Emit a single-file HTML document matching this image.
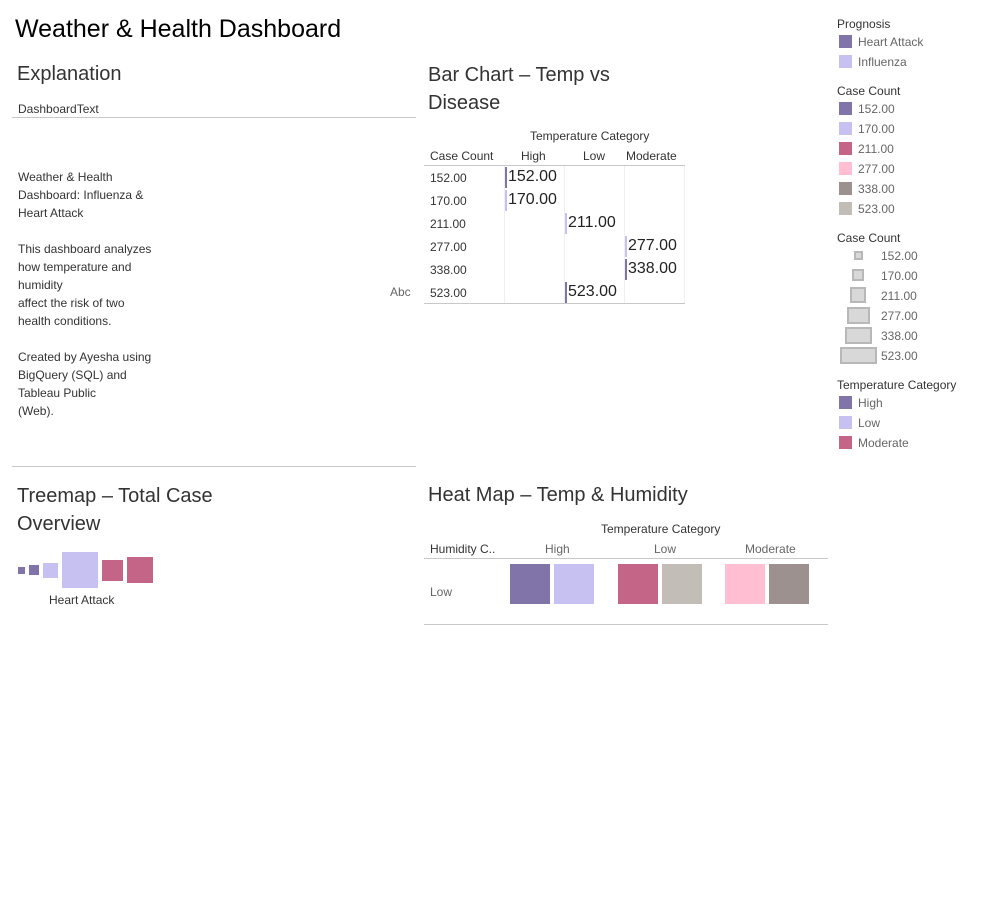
<!DOCTYPE html>
<html><head><meta charset="utf-8"><style>
body{margin:0;width:999px;height:899px;background:#fff;font-family:"Liberation Sans","DejaVu Sans",sans-serif;position:relative;overflow:hidden;color:#333}
.a{position:absolute;white-space:nowrap}
.t{font-size:20px;color:#333}
.s{font-size:12px;color:#333}
.g{font-size:12px;color:#666}
.sw{position:absolute;width:13px;height:13px}
.hl{position:absolute;height:1px;background:#c8c8c8}
</style></head><body>
<div class="a" style="left:15px;top:15px;font-size:25px;color:#000">Weather &amp; Health Dashboard</div>

<div class="a t" style="left:17px;top:63px">Explanation</div>
<div class="a s" style="left:18px;top:102px">DashboardText</div>
<div class="hl" style="left:12px;top:117px;width:404px"></div>
<div class="a s" style="left:18px;top:168px;line-height:18px;white-space:pre">Weather &amp; Health
Dashboard: Influenza &amp;
Heart Attack

This dashboard analyzes
how temperature and
humidity
affect the risk of two
health conditions.

Created by Ayesha using
BigQuery (SQL) and
Tableau Public
(Web).</div>
<div class="a g" style="left:390px;top:285px">Abc</div>
<div class="hl" style="left:12px;top:466px;width:404px"></div>

<div class="a t" style="left:428px;top:61px;line-height:28px">Bar Chart – Temp vs<br>Disease</div>
<div class="a s" style="left:530px;top:129px">Temperature Category</div>
<div class="a s" style="left:430px;top:149px">Case Count</div>
<div class="a s" style="left:521px;top:149px">High</div>
<div class="a s" style="left:583px;top:149px">Low</div>
<div class="a s" style="left:626px;top:149px">Moderate</div>
<div class="hl" style="left:424px;top:165px;width:261px"></div>
<div class="hl" style="left:424px;top:303px;width:261px"></div>
<div style="position:absolute;left:504px;top:166px;width:1px;height:137px;background:#f0f0f0"></div>
<div style="position:absolute;left:564px;top:166px;width:1px;height:137px;background:#f0f0f0"></div>
<div style="position:absolute;left:624px;top:166px;width:1px;height:137px;background:#f0f0f0"></div>
<div style="position:absolute;left:684px;top:166px;width:1px;height:137px;background:#f0f0f0"></div>
<div id="bars"></div>

<div class="a t" style="left:17px;top:482px;line-height:28px">Treemap – Total Case<br>Overview</div>
<div id="tree"></div>
<div class="a s" style="left:49px;top:593px">Heart Attack</div>

<div class="a t" style="left:428px;top:484px">Heat Map – Temp &amp; Humidity</div>
<div class="a s" style="left:601px;top:522px">Temperature Category</div>
<div class="a s" style="left:430px;top:542px">Humidity C..</div>
<div class="a g" style="left:545px;top:542px">High</div>
<div class="a g" style="left:654px;top:542px">Low</div>
<div class="a g" style="left:745px;top:542px">Moderate</div>
<div class="hl" style="left:424px;top:558px;width:404px"></div>
<div class="a g" style="left:430px;top:585px">Low</div>
<div class="hl" style="left:424px;top:624px;width:404px"></div>
<div id="heat"></div>

<div id="legend"></div>

<script>
const values=[152,170,211,277,338,523];
const tempCat=["High","High","Low","Moderate","Moderate","Low"];
const barColors=["#8074a8","#c6c1f0","#c6c1f0","#c6c1f0","#8074a8","#8074a8"];
const cats=["High","Low","Moderate"];
const colorMap={152:"#8074a8",170:"#c6c1f0",211:"#c46487",277:"#ffbed1",338:"#9c918e",523:"#c3bdb8"};
const treeVals=[152,170,211,523,277,338];
const treeColors=["#8074a8","#8074a8","#c6c1f0","#c6c1f0","#c46487","#c46487"];
const heatVals=[152,170,211,523,277,338];
const heatCats=["High","High","Low","Low","Moderate","Moderate"];

function logScale(v,r0,r1){const a=Math.log(152),b=Math.log(523);return r0+(Math.log(v)-a)/(b-a)*(r1-r0);}
function colX(c){return 505+cats.indexOf(c)*60;}
function rowY(i){return 166+i*23;}
const bars=document.getElementById('bars');
values.forEach((v,i)=>{
  const lab=document.createElement('div');
  lab.className='a s';lab.style.left='430px';lab.style.top=(rowY(i)+5)+'px';lab.textContent=v.toFixed(2);
  
  
  bars.appendChild(lab);
  const b=document.createElement('div');
  b.style.cssText='position:absolute;width:2px;height:21px;left:'+colX(tempCat[i])+'px;top:'+(rowY(i)+1)+'px;background:'+barColors[i];
  
  
  bars.appendChild(b);
  const t=document.createElement('div');
  t.className='a';t.style.cssText+='font-size:16px;color:#222;left:'+(colX(tempCat[i])+3)+'px;top:'+(rowY(i)+2)+'px';
  t.textContent=v.toFixed(2);
  
  
  bars.appendChild(t);
});

const tree=document.getElementById('tree');
let tx=18;const cy=570;
treeVals.forEach((v,i)=>{
  const sz=Math.round(logScale(v,7,36));
  const d=document.createElement('div');
  d.style.cssText='position:absolute;left:'+tx+'px;top:'+(cy-sz/2)+'px;width:'+sz+'px;height:'+sz+'px;background:'+treeColors[i];
  
  
  tree.appendChild(d);tx+=sz+4;
});

const heat=document.getElementById('heat');
const heatX={High:510,Low:618,Moderate:725};
heatVals.forEach((v,i)=>{
  const first=heatCats.indexOf(heatCats[i])===i;
  const x=heatX[heatCats[i]]+(first?0:44);
  const d=document.createElement('div');
  d.style.cssText='position:absolute;left:'+x+'px;top:564px;width:40px;height:40px;background:'+colorMap[v];
  
  
  heat.appendChild(d);
});

const leg=document.getElementById('legend');
function add(html,x,y,name,cls){const e=document.createElement('div');e.className='a '+(cls||'g');e.style.left=x+'px';e.style.top=y+'px';e.innerHTML=html;leg.appendChild(e);}
function sw(x,y,c){const e=document.createElement('div');e.className='sw';e.style.left=x+'px';e.style.top=y+'px';e.style.background=c;leg.appendChild(e);}
add('Prognosis',837,17,'legend-title','s');
[["Heart Attack","#8074a8"],["Influenza","#c6c1f0"]].forEach((p,i)=>{sw(839,35+i*20,p[1]);add(p[0],858,35+i*20,'legend-entry');});
add('Case Count',837,84,'legend-title','s');
values.forEach((v,i)=>{sw(839,102+i*20,colorMap[v]);add(v.toFixed(2),858,102+i*20,'legend-entry');});
add('Case Count',837,231,'legend-title','s');
values.forEach((v,i)=>{const e=document.createElement('div');const w=Math.round(logScale(v,9,37));const h=Math.min(w,17);
e.style.cssText='position:absolute;box-sizing:border-box;left:'+(858-w/2)+'px;top:'+(255+i*20-h/2)+'px;width:'+w+'px;height:'+h+'px;background:#d8d8d8;border:2px solid #b8b8b8';


leg.appendChild(e);add(v.toFixed(2),881,249+i*20,'legend-entry');});
add('Temperature Category',837,378,'legend-title','s');
[["High","#8074a8"],["Low","#c6c1f0"],["Moderate","#c46487"]].forEach((p,i)=>{sw(839,396+i*20,p[1]);add(p[0],858,396+i*20,'legend-entry');});
</script>
</body></html>
